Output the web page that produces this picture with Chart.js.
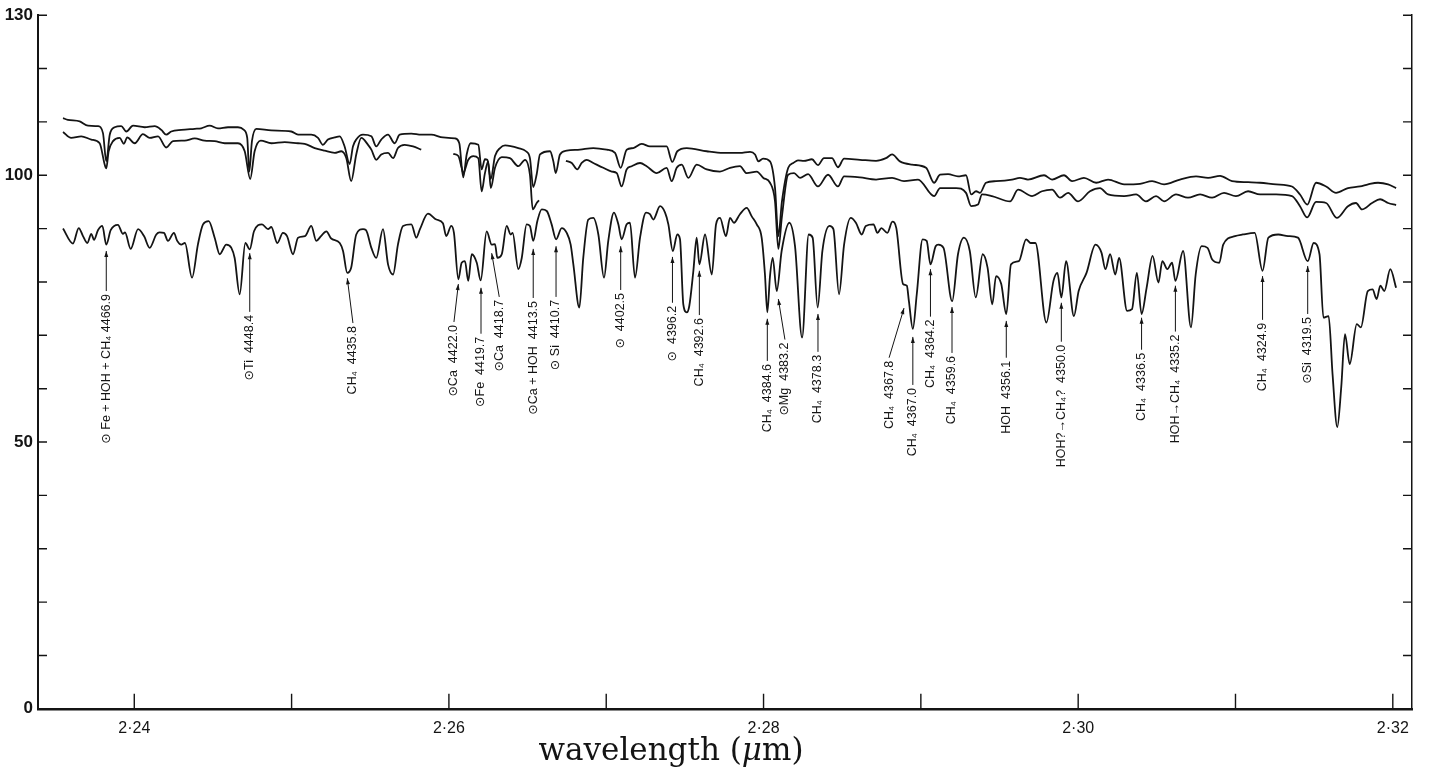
<!DOCTYPE html>
<html>
<head>
<meta charset="utf-8">
<title>Spectrum 2.235 - 2.32 micron</title>
<script src="https://cdn.jsdelivr.net/npm/chart.js@4.4.1/dist/chart.umd.min.js"></script>
<style>
  html, body { margin: 0; padding: 0; background: #fff; }
  #wrap { width: 1434px; height: 776px; position: relative; }
</style>
</head>
<body>
<div id="wrap"><canvas id="spectrum"></canvas></div>
<script>
// lower trace (the labelled spectrum)
const lowerWl = [
  2.23547, 2.23610, 2.23647, 2.23674, 2.23701, 2.23727, 2.23744, 2.23769, 2.23797, 2.23822,
  2.23850, 2.23896, 2.23928, 2.23941, 2.23977, 2.24024, 2.24062, 2.24098, 2.24140, 2.24161,
  2.24189, 2.24214, 2.24252, 2.24273, 2.24299, 2.24322, 2.24367, 2.24405, 2.24437, 2.24473,
  2.24511, 2.24543, 2.24585, 2.24617, 2.24638, 2.24670, 2.24706, 2.24734, 2.24761, 2.24812,
  2.24850, 2.24871, 2.24909, 2.24945, 2.24971, 2.25009, 2.25041, 2.25085, 2.25125, 2.25157,
  2.25187, 2.25221, 2.25250, 2.25306, 2.25327, 2.25354, 2.25379, 2.25411, 2.25454, 2.25473,
  2.25507, 2.25538, 2.25581, 2.25613, 2.25645, 2.25676, 2.25708, 2.25761, 2.25793, 2.25816,
  2.25867, 2.25920, 2.25962, 2.25983, 2.26015, 2.26032, 2.26060, 2.26081, 2.26102, 2.26123,
  2.26145, 2.26177, 2.26202, 2.26240, 2.26272, 2.26293, 2.26308, 2.26336, 2.26367, 2.26393,
  2.26405, 2.26441, 2.26463, 2.26494, 2.26515, 2.26536, 2.26562, 2.26590, 2.26622, 2.26653,
  2.26681, 2.26717, 2.26749, 2.26774, 2.26791, 2.26829, 2.26854, 2.26886, 2.26918, 2.26950,
  2.26986, 2.27013, 2.27049, 2.27077, 2.27098, 2.27130, 2.27151, 2.27183, 2.27215, 2.27253,
  2.27278, 2.27299, 2.27342, 2.27374, 2.27395, 2.27423, 2.27452, 2.27469, 2.27490, 2.27512,
  2.27528, 2.27554, 2.27575, 2.27592, 2.27628, 2.27671, 2.27698, 2.27723, 2.27761, 2.27787,
  2.27812, 2.27850, 2.27893, 2.27925, 2.27957, 2.27988, 2.28009, 2.28024, 2.28041, 2.28058,
  2.28084, 2.28115, 2.28164, 2.28200, 2.28245, 2.28287, 2.28312, 2.28344, 2.28374, 2.28419,
  2.28444, 2.28480, 2.28512, 2.28554, 2.28587, 2.28624, 2.28650, 2.28699, 2.28724, 2.28749,
  2.28787, 2.28819, 2.28844, 2.28887, 2.28911, 2.28924, 2.28949, 2.28974, 2.29011, 2.29037,
  2.29061, 2.29094, 2.29111, 2.29144, 2.29199, 2.29236, 2.29274, 2.29311, 2.29349, 2.29393,
  2.29424, 2.29454, 2.29478, 2.29511, 2.29543, 2.29573, 2.29623, 2.29669, 2.29698, 2.29728,
  2.29798, 2.29843, 2.29868, 2.29893, 2.29923, 2.29973, 2.30003, 2.30053, 2.30110, 2.30148,
  2.30173, 2.30203, 2.30236, 2.30260, 2.30311, 2.30342, 2.30373, 2.30403, 2.30435, 2.30473,
  2.30510, 2.30535, 2.30567, 2.30597, 2.30618, 2.30667, 2.30717, 2.30747, 2.30785, 2.30822,
  2.30852, 2.30897, 2.30922, 2.30997, 2.31047, 2.31122, 2.31172, 2.31209, 2.31272, 2.31334,
  2.31397, 2.31459, 2.31497, 2.31534, 2.31559, 2.31592, 2.31617, 2.31647, 2.31672, 2.31696,
  2.31726, 2.31771, 2.31797, 2.31841, 2.31871, 2.31897, 2.31921, 2.31946, 2.31984, 2.32021
];
const lowerVal = [
  90.0, 87.2, 90.1, 88.6, 87.3, 89.0, 87.9, 89.7, 90.5, 87.0,
  89.7, 90.7, 89.0, 89.3, 86.2, 89.9, 88.6, 86.4, 88.9, 89.3,
  89.2, 87.7, 89.2, 87.7, 87.0, 87.3, 80.8, 87.1, 90.8, 91.4,
  88.3, 85.2, 87.0, 86.4, 84.5, 77.7, 87.3, 86.1, 89.5, 90.8,
  89.9, 90.3, 87.3, 89.2, 88.6, 85.2, 88.3, 88.6, 90.5, 87.7,
  88.6, 89.5, 88.2, 87.3, 85.8, 81.7, 82.7, 88.9, 89.9, 89.7,
  86.4, 84.5, 89.9, 83.3, 81.4, 87.0, 90.5, 90.8, 88.3, 89.9,
  92.8, 91.7, 91.0, 88.6, 90.5, 89.2, 80.5, 83.6, 83.9, 80.2,
  85.2, 83.6, 80.3, 89.5, 87.0, 87.1, 84.5, 85.2, 90.5, 88.9,
  89.2, 82.4, 84.5, 90.8, 90.5, 87.7, 91.4, 93.6, 93.3, 90.8,
  88.0, 90.1, 89.2, 87.0, 83.3, 75.2, 84.5, 91.7, 92.0, 88.9,
  80.8, 87.7, 93.0, 90.8, 88.0, 90.8, 91.1, 80.8, 88.3, 93.0,
  92.7, 91.7, 94.2, 93.0, 90.8, 85.8, 88.9, 88.0, 75.8, 74.3,
  75.5, 82.1, 88.3, 83.3, 88.9, 81.4, 90.8, 92.0, 88.6, 92.0,
  91.1, 92.7, 93.9, 92.3, 90.8, 88.3, 81.4, 74.3, 81.1, 84.5,
  78.3, 85.8, 91.1, 86.7, 69.6, 88.9, 88.3, 75.2, 85.8, 90.5,
  89.9, 77.7, 87.0, 92.0, 91.1, 88.9, 90.5, 90.8, 89.2, 90.1,
  89.2, 91.3, 90.1, 79.6, 79.3, 76.4, 71.2, 77.7, 88.0, 87.7,
  83.3, 86.7, 87.0, 86.4, 76.4, 85.2, 88.3, 85.8, 77.1, 85.2,
  82.7, 75.8, 81.1, 79.6, 74.0, 83.3, 83.9, 88.0, 87.3, 87.3,
  72.4, 80.2, 81.7, 77.1, 83.9, 73.6, 78.3, 81.7, 87.0, 85.5,
  82.4, 85.2, 81.4, 84.5, 74.6, 74.9, 81.7, 74.0, 78.9, 84.9,
  79.9, 83.9, 82.4, 83.6, 80.2, 85.8, 71.5, 81.4, 86.7, 86.4,
  84.2, 83.6, 87.0, 88.6, 88.9, 89.2, 82.1, 88.3, 88.9, 88.6,
  88.3, 83.9, 87.3, 85.2, 73.3, 73.6, 62.7, 52.8, 60.2, 70.2,
  64.6, 72.1, 71.5, 78.3, 78.6, 76.8, 79.3, 78.3, 82.4, 78.9
];

// upper trace A (top line, unbroken)
const upperAWl = [
  2.23547, 2.23578, 2.23653, 2.23706, 2.23769, 2.23801, 2.23822, 2.23844, 2.23875, 2.23917,
  2.23949, 2.23992, 2.24066, 2.24130, 2.24172, 2.24203, 2.24235, 2.24299, 2.24384, 2.24426,
  2.24479, 2.24532, 2.24596, 2.24659, 2.24697, 2.24718, 2.24731, 2.24748, 2.24776, 2.24871,
  2.24998, 2.25041, 2.25125, 2.25168, 2.25199, 2.25231, 2.25274, 2.25306, 2.25337, 2.25369,
  2.25390, 2.25411, 2.25454, 2.25507, 2.25538, 2.25570, 2.25613, 2.25655, 2.25687, 2.25761,
  2.25824, 2.25888, 2.25962, 2.26039,
  2.26066, 2.26091, 2.26113, 2.26138, 2.26187, 2.26208, 2.26229, 2.26244, 2.26266, 2.26293,
  2.26325, 2.26357, 2.26441, 2.26490, 2.26515, 2.26536, 2.26558, 2.26579, 2.26643, 2.26664,
  2.26679, 2.26706, 2.26749, 2.26833, 2.26918, 2.27003, 2.27056, 2.27092, 2.27130, 2.27172,
  2.27225, 2.27278, 2.27384, 2.27420, 2.27452, 2.27512, 2.27639, 2.27744, 2.27850, 2.27914,
  2.27946, 2.27967, 2.27997, 2.28041, 2.28073, 2.28094, 2.28117, 2.28157, 2.28189,
  2.28219, 2.28257, 2.28308, 2.28346, 2.28384, 2.28435, 2.28473, 2.28512, 2.28613, 2.28715,
  2.28778, 2.28817, 2.28867, 2.28944, 2.29033, 2.29084, 2.29122, 2.29173, 2.29236, 2.29287,
  2.29320, 2.29351, 2.29376, 2.29414, 2.29478, 2.29579, 2.29630, 2.29681, 2.29783, 2.29834,
  2.29910, 2.29961, 2.30037, 2.30114, 2.30190, 2.30292, 2.30393, 2.30470, 2.30546, 2.30647,
  2.30749, 2.30826, 2.30902, 2.30978, 2.31080, 2.31156, 2.31258, 2.31359, 2.31410, 2.31456,
  2.31512, 2.31576, 2.31639, 2.31715, 2.31792, 2.31843, 2.31906, 2.31970, 2.32021
];
const upperAVal = [
  110.7, 110.4, 110.1, 109.3, 109.2, 107.9, 102.6, 107.6, 109.0, 109.2,
  108.2, 109.3, 109.0, 109.2, 108.5, 107.6, 108.2, 108.5, 108.7, 108.8,
  109.3, 108.8, 109.0, 109.0, 108.5, 107.0, 100.7, 106.4, 108.7, 108.4,
  108.2, 107.6, 107.6, 107.0, 105.7, 106.7, 107.1, 107.3, 105.4, 102.1,
  105.4, 106.7, 107.6, 107.3, 105.4, 106.7, 107.6, 106.0, 107.6, 107.8,
  107.6, 107.6, 107.1, 106.9,
  106.0, 99.6, 103.9, 106.0, 105.7, 101.1, 103.0, 102.9, 99.3, 103.6,
  105.1, 105.6, 105.1, 104.5, 103.2, 97.8, 100.2, 103.9, 104.5, 102.6,
  100.4, 103.9, 104.6, 104.8, 105.1, 104.8, 104.2, 101.4, 104.8, 105.1,
  105.9, 105.4, 105.4, 102.5, 104.5, 105.1, 104.5, 104.2, 104.2, 104.4,
  103.9, 102.6, 103.1, 102.6, 97.6, 88.6, 95.1, 101.4, 102.3,
  102.8, 102.7, 103.0, 101.9, 103.2, 103.2, 101.5, 103.1, 102.9, 102.7,
  103.2, 103.9, 102.6, 102.0, 101.4, 98.6, 100.1, 100.2, 99.8, 100.0,
  96.4, 97.0, 96.7, 98.6, 98.9, 99.2, 99.5, 99.2, 100.0, 99.2,
  100.0, 98.9, 99.5, 98.6, 99.2, 98.3, 98.4, 98.9, 98.3, 99.2,
  99.8, 99.5, 99.9, 98.9, 98.7, 98.6, 98.3, 97.9, 96.4, 94.5,
  98.6, 97.9, 96.7, 97.6, 97.9, 98.3, 98.6, 98.3, 97.6
];

// upper trace B (second line, recorded in three pieces; null = pen lifted)
const upperBWl = [
  2.23547, 2.23599, 2.23663, 2.23727, 2.23780, 2.23812, 2.23822, 2.23837, 2.23865, 2.23907,
  2.23934, 2.23955, 2.24003, 2.24055, 2.24098, 2.24151, 2.24203, 2.24246, 2.24320, 2.24384,
  2.24447, 2.24511, 2.24575, 2.24659, 2.24702, 2.24737, 2.24765, 2.24804, 2.24871, 2.24956,
  2.25041, 2.25083, 2.25147, 2.25210, 2.25274, 2.25316, 2.25348, 2.25379, 2.25411, 2.25443,
  2.25486, 2.25507, 2.25538, 2.25570, 2.25613, 2.25645, 2.25676, 2.25719, 2.25772, 2.25824,
  2.25930,
  2.26028, 2.26060, 2.26081, 2.26091, 2.26123, 2.26155, 2.26187, 2.26208, 2.26229, 2.26250,
  2.26266, 2.26293, 2.26336, 2.26388, 2.26441, 2.26484, 2.26515, 2.26533, 2.26558, 2.26573,
  2.26660,
  2.26744, 2.26781, 2.26816, 2.26844, 2.26876, 2.26918, 2.26981, 2.27035, 2.27067, 2.27098,
  2.27130, 2.27162, 2.27215, 2.27257, 2.27321, 2.27384, 2.27416, 2.27448, 2.27480, 2.27522,
  2.27575, 2.27639, 2.27723, 2.27787, 2.27850, 2.27893, 2.27957, 2.27999, 2.28041, 2.28073,
  2.28094, 2.28117, 2.28156, 2.28194, 2.28232, 2.28283, 2.28346, 2.28410, 2.28473, 2.28512,
  2.28613, 2.28715, 2.28817, 2.28893, 2.28982, 2.29084, 2.29122, 2.29224, 2.29287, 2.29320,
  2.29363, 2.29389, 2.29452, 2.29567, 2.29618, 2.29707, 2.29770, 2.29834, 2.29885, 2.29936,
  2.29999, 2.30075, 2.30139, 2.30190, 2.30292, 2.30368, 2.30431, 2.30495, 2.30546, 2.30622,
  2.30698, 2.30775, 2.30851, 2.30927, 2.31003, 2.31080, 2.31156, 2.31258, 2.31359, 2.31410,
  2.31456, 2.31512, 2.31576, 2.31644, 2.31715, 2.31766, 2.31804, 2.31868, 2.31919, 2.31970,
  2.32021
];
const upperBVal = [
  108.1, 107.0, 107.3, 106.7, 106.0, 102.0, 101.3, 104.5, 106.4, 107.0,
  105.9, 107.1, 106.0, 107.7, 107.0, 107.3, 105.2, 106.4, 106.5, 106.9,
  106.5, 106.4, 106.0, 106.0, 104.5, 99.3, 104.5, 106.5, 106.0, 106.2,
  106.0, 105.9, 105.1, 104.6, 104.2, 104.5, 103.2, 98.9, 103.9, 107.0,
  105.7, 104.8, 102.9, 103.9, 104.2, 103.2, 105.1, 105.7, 105.4, 104.8,
  null,
  104.0, 103.6, 101.4, 100.4, 102.9, 103.6, 103.2, 97.0, 100.4, 102.6,
  97.6, 101.4, 103.4, 103.2, 101.7, 102.9, 100.1, 93.6, 94.8, 95.3,
  null,
  102.7, 102.3, 101.1, 102.3, 102.9, 102.3, 101.4, 100.7, 100.4, 97.9,
  101.1, 101.7, 102.3, 101.7, 100.4, 101.4, 98.9, 101.4, 102.0, 99.5,
  102.0, 101.1, 100.7, 101.4, 101.7, 100.4, 100.7, 99.5, 98.6, 95.1,
  86.2, 92.3, 100.1, 100.4, 99.5, 100.2, 97.9, 100.1, 97.9, 99.8,
  99.6, 99.2, 99.5, 98.9, 99.2, 96.1, 97.6, 97.6, 96.7, 94.2,
  94.5, 96.4, 96.1, 95.1, 97.3, 96.1, 97.0, 97.3, 95.8, 96.7,
  95.1, 97.0, 97.6, 96.4, 96.1, 96.4, 95.1, 96.1, 95.1, 96.4,
  95.8, 96.4, 95.8, 96.7, 96.1, 97.0, 96.4, 96.4, 96.1, 94.2,
  92.1, 95.0, 94.8, 92.0, 94.2, 94.8, 93.6, 94.8, 95.5, 94.8,
  94.4
];

// axis ticks
const xTicks = [2.24, 2.25, 2.26, 2.27, 2.28, 2.29, 2.30, 2.31, 2.32];
const xLabelled = [2.24, 2.26, 2.28, 2.30, 2.32];
const yTicks = [0, 10, 20, 30, 40, 50, 60, 70, 80, 90, 100, 110, 120, 130];
const yLabelled = [0, 50, 100, 130];

// line identifications: arrow tip on the trace, arrow foot where the label ends
const lineLabels = [
  "\u2299 Fe + HOH + CH\u2084 4466.9", "\u2299Ti  4448.4", "CH\u2084  4435.8",
  "\u2299Ca  4422.0", "\u2299Fe  4419.7", "\u2299Ca  4418.7", "\u2299Ca + HOH  4413.5",
  "\u2299 Si  4410.7", "\u2299  4402.5", "\u2299  4396.2", "CH\u2084  4392.6",
  "CH\u2084  4384.6", "\u2299Mg  4383.2", "CH\u2084  4378.3", "CH\u2084  4367.8",
  "CH\u2084  4367.0", "CH\u2084  4364.2", "CH\u2084  4359.6", "HOH  4356.1",
  "HOH?\u2192CH\u2084?  4350.0", "CH\u2084  4336.5", "HOH\u2192CH\u2084  4335.2",
  "CH\u2084  4324.9", "\u2299Si  4319.5"
];
const lineTipWl = [
  2.23822, 2.24734, 2.25354, 2.26060, 2.26204, 2.26272, 2.26536, 2.26681, 2.27092, 2.27421,
  2.27592, 2.28024, 2.28094, 2.28346, 2.28893, 2.28949, 2.29061, 2.29198, 2.29543, 2.29893,
  2.30403, 2.30618, 2.31172, 2.31459
];
const lineTipVal = [
  85.8, 85.4, 80.7, 79.6, 78.9, 85.4, 86.2, 86.7, 86.7, 84.7,
  82.1, 73.1, 76.8, 74.0, 75.1, 69.7, 82.4, 75.3, 72.7, 76.1,
  73.3, 79.3, 81.1, 83.0
];
const lineFootWl = [
  2.23822, 2.24734, 2.25390, 2.26032, 2.26204, 2.26320, 2.26536, 2.26681, 2.27092, 2.27421,
  2.27592, 2.28024, 2.28136, 2.28346, 2.28798, 2.28949, 2.29061, 2.29198, 2.29543, 2.29893,
  2.30403, 2.30618, 2.31172, 2.31459
];
const lineFootVal = [
  78.3, 74.4, 72.3, 72.5, 70.3, 77.2, 77.0, 77.2, 78.5, 76.1,
  73.8, 65.2, 69.2, 66.9, 65.8, 60.7, 73.5, 66.7, 65.8, 68.8,
  67.3, 70.7, 72.9, 74.0
];

const INK = "#141414";
const SANS = '"Liberation Sans", "DejaVu Sans", Arial, sans-serif';
const SERIF = '"DejaVu Serif", "Liberation Serif", serif';

function toPoints(wl, val) {
  return wl.map((x, i) => ({ x: x, y: val[i] }));
}

// tick marks pointing into the plot, on the left, right and bottom edges
const innerTicks = {
  id: "innerTicks",
  afterDraw(chart) {
    const { ctx, chartArea, scales } = chart;
    ctx.save();
    ctx.strokeStyle = INK;
    ctx.lineWidth = 1.4;
    ctx.beginPath();
    yTicks.forEach((v) => {
      const py = scales.y.getPixelForValue(v);
      ctx.moveTo(chartArea.left, py);
      ctx.lineTo(chartArea.left + 9, py);
      ctx.moveTo(chartArea.right, py);
      ctx.lineTo(chartArea.right - 9, py);
    });
    xTicks.forEach((v) => {
      const px = scales.x.getPixelForValue(v);
      ctx.moveTo(px, chartArea.bottom);
      ctx.lineTo(px, chartArea.bottom - 15);
    });
    ctx.stroke();

    // axis title, with an italic mu
    const parts = [
      ["wavelength (", "31px " + SERIF],
      ["\u03bc", "italic 31px " + SERIF],
      ["m)", "31px " + SERIF],
    ];
    let total = 0;
    parts.forEach((p) => { ctx.font = p[1]; total += ctx.measureText(p[0]).width; });
    let tx = 671 - total / 2;
    ctx.fillStyle = INK;
    ctx.textBaseline = "middle";
    parts.forEach((p) => {
      ctx.font = p[1];
      ctx.fillText(p[0], tx, chartArea.bottom + 43);
      tx += ctx.measureText(p[0]).width;
    });
    ctx.restore();
  }
};

// arrows and rotated identification labels
const lineMarks = {
  id: "lineMarks",
  afterDatasetsDraw(chart) {
    const { ctx, scales: { x, y } } = chart;
    ctx.save();
    ctx.strokeStyle = INK;
    ctx.fillStyle = INK;
    ctx.lineWidth = 1;
    ctx.font = "12.5px " + SANS;
    lineLabels.forEach((label, i) => {
      const tx = x.getPixelForValue(lineTipWl[i]);
      const ty = y.getPixelForValue(lineTipVal[i]);
      const fx = x.getPixelForValue(lineFootWl[i]);
      const fy = y.getPixelForValue(lineFootVal[i]);
      ctx.beginPath();
      ctx.moveTo(fx, fy);
      ctx.lineTo(tx, ty);
      ctx.stroke();

      const a = Math.atan2(ty - fy, tx - fx);
      ctx.beginPath();
      ctx.moveTo(tx, ty);
      ctx.lineTo(tx - 6 * Math.cos(a) + 2 * Math.sin(a), ty - 6 * Math.sin(a) - 2 * Math.cos(a));
      ctx.lineTo(tx - 6 * Math.cos(a) - 2 * Math.sin(a), ty - 6 * Math.sin(a) + 2 * Math.cos(a));
      ctx.closePath();
      ctx.fill();

      ctx.save();
      ctx.translate(fx, fy + 3);
      ctx.rotate(-Math.PI / 2);
      ctx.textAlign = "right";
      ctx.textBaseline = "middle";
      ctx.fillText(label, 0, 0);
      ctx.restore();
    });
    ctx.restore();
  }
};

const traceStyle = {
  showLine: true,
  pointRadius: 0,
  borderColor: INK,
  borderWidth: 1.8,
  cubicInterpolationMode: "monotone",
  spanGaps: false,
};

new Chart(document.getElementById("spectrum"), {
  type: "scatter",
  data: {
    datasets: [
      { ...traceStyle, label: "upper A", data: toPoints(upperAWl, upperAVal) },
      { ...traceStyle, label: "upper B", data: toPoints(upperBWl, upperBVal) },
      { ...traceStyle, label: "spectrum", data: toPoints(lowerWl, lowerVal) },
    ],
  },
  options: {
    responsive: true,
    maintainAspectRatio: false,
    animation: false,
    layout: { padding: { top: 14, right: 0, bottom: 28, left: 0 } },
    plugins: {
      legend: { display: false },
      tooltip: { enabled: false },
    },
    scales: {
      x: {
        type: "linear",
        position: "bottom",
        min: 2.23388,
        max: 2.32122,
        afterBuildTicks: (scale) => {
          scale.ticks = xTicks.map((v) => ({ value: v }));
        },
        grid: { display: false, drawTicks: false },
        border: { display: true, color: INK, width: 2.5 },
        ticks: {
          autoSkip: false,
          maxRotation: 0,
          padding: 10,
          color: INK,
          font: { size: 16, family: SANS },
          callback: (v) =>
            xLabelled.some((t) => Math.abs(t - v) < 1e-6) ? v.toFixed(2).replace(".", "\u00b7") : "",
        },
      },
      y: {
        position: "left",
        min: 0,
        max: 130,
        afterBuildTicks: (scale) => {
          scale.ticks = yTicks.map((v) => ({ value: v }));
        },
        afterFit: (scale) => { scale.width = 38; },
        grid: { display: false, drawTicks: false },
        border: { display: true, color: INK, width: 2 },
        ticks: {
          autoSkip: false,
          padding: 5,
          color: INK,
          font: { size: 17, weight: "bold", family: SANS },
          callback: (v) => (yLabelled.includes(v) ? String(v) : ""),
        },
      },
      y2: {
        position: "right",
        min: 0,
        max: 130,
        afterFit: (scale) => { scale.width = 22; },
        grid: { display: false, drawTicks: false },
        border: { display: true, color: INK, width: 1.5 },
        ticks: { display: false },
      },
    },
  },
  plugins: [innerTicks, lineMarks],
});
</script>
</body>
</html>
